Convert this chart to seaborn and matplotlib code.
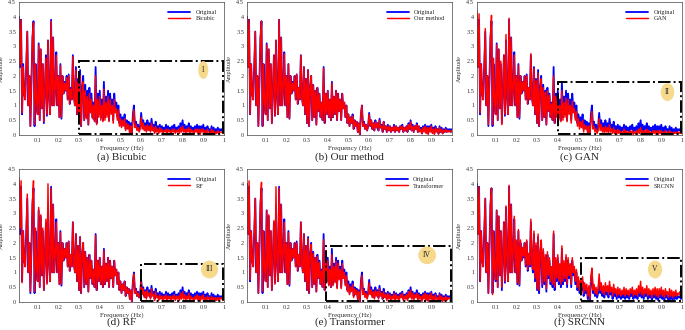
import numpy as np
import pandas as pd
import matplotlib
matplotlib.use("Agg")
import matplotlib.pyplot as plt
import seaborn as sns
from matplotlib.patches import Rectangle
from matplotlib.ticker import FuncFormatter

# amplitude spectra (0.01 .. 1.0 Hz, step 0.005)
original = [
    4.0, 2.3, 3.9, 0.7, 2.4, 1.4, 1.2, 2.3, 3.5, 1.0,
    2.0, 0.3, 1.8, 3.3, 3.85, 0.3, 2.4, 1.1, 0.7, 3.1,
    0.5, 2.9, 0.9, 2.4, 0.4, 1.5, 2.7, 0.65, 3.2, 1.3,
    0.7, 3.9, 1.0, 3.3, 1.0, 1.6, 2.8, 1.0, 2.0, 0.6,
    2.4, 0.55, 2.0, 1.4, 1.8, 1.5, 2.0, 1.2, 2.05, 1.05,
    1.6, 1.2, 2.7, 1.3, 1.0, 2.3, 0.7, 1.9, 0.4, 2.2,
    0.3, 1.6, 2.0, 0.5, 1.7, 0.6, 1.5, 0.35, 1.6, 0.8,
    1.4, 0.6, 1.1, 0.5, 2.3, 0.4, 1.4, 0.7, 1.5, 0.6,
    1.2, 0.5, 1.8, 0.6, 1.3, 0.7, 1.5, 0.5, 1.4, 0.8,
    1.2, 0.5, 1.4, 0.9, 1.1, 0.6, 1.0, 0.4, 0.7, 0.3,
    0.6, 0.4, 0.7, 0.2, 0.5, 0.3, 0.45, 0.1, 0.4, 0.0,
    0.7, 1.0, 0.3, 0.45, 0.2, 0.35, 0.15, 0.3, 0.75, 0.3,
    0.5, 0.2, 0.4, 0.15, 0.5, 0.25, 0.4, 0.15, 0.55, 0.25,
    0.35, 0.1, 0.45, 0.2, 0.3, 0.1, 0.35, 0.15, 0.3, 0.1,
    0.25, 0.15, 0.35, 0.1, 0.3, 0.15, 0.25, 0.1, 0.3, 0.2,
    0.35, 0.1, 0.25, 0.15, 0.3, 0.1, 0.4, 0.2, 0.5, 0.15,
    0.35, 0.1, 0.3, 0.2, 0.4, 0.1, 0.3, 0.15, 0.25, 0.05,
    0.3, 0.15, 0.35, 0.1, 0.3, 0.05, 0.3, 0.15, 0.35, 0.1,
    0.25, 0.05, 0.3, 0.15, 0.2, 0.05, 0.3, 0.1, 0.25, 0.05,
    0.2, 0.1, 0.25, 0.1, 0.2, 0.15, 0.2, 0.1, 0.2,
]

bicubic = [
    3.9, 2.4, 3.9, 0.75, 2.3, 1.4, 1.2, 2.3, 3.5, 1.0,
    2.0, 0.3, 1.8, 3.3, 3.8, 0.35, 2.4, 1.1, 0.7, 3.05,
    0.5, 2.9, 0.9, 2.4, 0.45, 1.5, 2.6, 0.7, 3.2, 1.3,
    0.7, 3.85, 1.0, 3.3, 1.0, 1.6, 2.7, 1.0, 2.0, 0.6,
    2.35, 0.6, 2.0, 1.4, 1.75, 1.5, 1.95, 1.2, 2.0, 1.05,
    1.55, 1.2, 2.65, 1.3, 1.0, 2.2, 0.7, 1.8, 0.45, 2.0,
    0.3, 1.4, 1.8, 0.5, 1.5, 0.55, 1.3, 0.35, 1.4, 0.75,
    1.2, 0.55, 1.0, 0.45, 2.0, 0.35, 1.2, 0.6, 1.3, 0.5,
    1.0, 0.45, 1.55, 0.5, 1.1, 0.6, 1.3, 0.45, 1.2, 0.7,
    1.0, 0.4, 1.2, 0.75, 0.9, 0.5, 0.85, 0.3, 0.55, 0.25,
    0.5, 0.3, 0.55, 0.15, 0.4, 0.2, 0.35, 0.05, 0.3, 0.0,
    0.55, 0.85, 0.25, 0.35, 0.15, 0.25, 0.1, 0.2, 0.6, 0.2,
    0.4, 0.15, 0.3, 0.1, 0.35, 0.15, 0.3, 0.1, 0.4, 0.15,
    0.25, 0.05, 0.3, 0.1, 0.2, 0.05, 0.25, 0.1, 0.2, 0.05,
    0.15, 0.1, 0.2, 0.05, 0.2, 0.1, 0.15, 0.05, 0.2, 0.1,
    0.2, 0.05, 0.15, 0.1, 0.2, 0.05, 0.25, 0.1, 0.3, 0.1,
    0.2, 0.05, 0.2, 0.1, 0.25, 0.05, 0.2, 0.1, 0.15, 0.02,
    0.2, 0.1, 0.2, 0.05, 0.2, 0.02, 0.2, 0.1, 0.2, 0.05,
    0.15, 0.02, 0.2, 0.1, 0.1, 0.02, 0.2, 0.05, 0.15, 0.02,
    0.1, 0.05, 0.15, 0.05, 0.1, 0.1, 0.1, 0.05, 0.1,
]

our_method = [
    4.0, 2.3, 3.9, 0.7, 2.4, 1.4, 1.2, 2.3, 3.5, 1.0,
    2.0, 0.3, 1.8, 3.3, 3.85, 0.3, 2.4, 1.1, 0.7, 3.05,
    0.5, 2.9, 0.9, 2.4, 0.4, 1.5, 2.7, 0.65, 3.2, 1.3,
    0.7, 3.9, 1.0, 3.3, 1.0, 1.6, 2.75, 1.0, 2.0, 0.6,
    2.4, 0.55, 2.0, 1.4, 1.75, 1.5, 2.0, 1.2, 2.05, 1.05,
    1.6, 1.2, 2.7, 1.3, 1.0, 2.3, 0.7, 1.9, 0.4, 2.2,
    0.3, 1.6, 2.0, 0.5, 1.7, 0.6, 1.5, 0.35, 1.6, 0.8,
    1.4, 0.6, 1.1, 0.5, 2.25, 0.4, 1.4, 0.7, 1.5, 0.6,
    1.2, 0.5, 1.75, 0.6, 1.3, 0.7, 1.5, 0.5, 1.4, 0.8,
    1.2, 0.5, 1.4, 0.9, 1.1, 0.6, 1.0, 0.4, 0.7, 0.3,
    0.6, 0.4, 0.65, 0.2, 0.5, 0.3, 0.45, 0.1, 0.4, 0.0,
    0.7, 1.0, 0.3, 0.4, 0.2, 0.35, 0.15, 0.3, 0.7, 0.3,
    0.5, 0.2, 0.4, 0.15, 0.45, 0.25, 0.4, 0.15, 0.5, 0.25,
    0.3, 0.1, 0.45, 0.2, 0.3, 0.1, 0.3, 0.15, 0.3, 0.1,
    0.25, 0.15, 0.3, 0.1, 0.3, 0.15, 0.25, 0.1, 0.3, 0.2,
    0.3, 0.1, 0.25, 0.15, 0.3, 0.1, 0.35, 0.2, 0.45, 0.15,
    0.3, 0.1, 0.3, 0.2, 0.35, 0.1, 0.3, 0.1, 0.2, 0.05,
    0.25, 0.1, 0.3, 0.05, 0.25, 0.02, 0.25, 0.1, 0.3, 0.05,
    0.2, 0.02, 0.25, 0.1, 0.2, 0.02, 0.25, 0.1, 0.2, 0.05,
    0.15, 0.1, 0.2, 0.1, 0.15, 0.1, 0.15, 0.1, 0.15,
]

gan = [
    4.2, 2.3, 4.1, 0.75, 2.4, 1.4, 1.2, 2.3, 3.6, 1.0,
    2.0, 0.35, 1.8, 3.3, 4.05, 0.35, 2.6, 1.1, 0.7, 3.05,
    0.5, 2.9, 0.9, 2.5, 0.35, 1.5, 2.7, 0.7, 3.4, 1.3,
    0.7, 3.95, 1.0, 3.3, 1.0, 1.6, 2.7, 1.0, 2.0, 0.6,
    2.35, 0.6, 2.0, 1.4, 1.8, 1.5, 2.0, 1.2, 2.0, 1.05,
    1.6, 1.2, 2.75, 1.3, 1.0, 2.25, 0.7, 1.85, 0.4, 2.1,
    0.3, 1.5, 1.9, 0.5, 1.6, 0.6, 1.45, 0.35, 1.5, 0.8,
    1.35, 0.6, 1.05, 0.5, 2.0, 0.4, 1.3, 0.6, 1.3, 0.5,
    1.0, 0.45, 1.5, 0.5, 1.1, 0.6, 1.25, 0.45, 1.2, 0.7,
    1.0, 0.4, 1.15, 0.75, 0.9, 0.5, 0.8, 0.3, 0.55, 0.2,
    0.45, 0.25, 0.5, 0.1, 0.35, 0.2, 0.3, 0.05, 0.3, 0.0,
    0.5, 0.8, 0.2, 0.3, 0.1, 0.2, 0.05, 0.15, 0.55, 0.15,
    0.35, 0.1, 0.25, 0.05, 0.3, 0.1, 0.25, 0.05, 0.35, 0.1,
    0.2, 0.05, 0.25, 0.05, 0.15, 0.02, 0.2, 0.05, 0.15, 0.02,
    0.1, 0.05, 0.2, 0.02, 0.15, 0.05, 0.1, 0.02, 0.15, 0.05,
    0.15, 0.02, 0.1, 0.05, 0.15, 0.02, 0.2, 0.05, 0.25, 0.05,
    0.15, 0.02, 0.15, 0.05, 0.2, 0.02, 0.15, 0.05, 0.1, 0.02,
    0.15, 0.05, 0.15, 0.02, 0.15, 0.01, 0.15, 0.05, 0.15, 0.02,
    0.1, 0.01, 0.15, 0.05, 0.1, 0.01, 0.15, 0.05, 0.1, 0.01,
    0.1, 0.05, 0.1, 0.05, 0.1, 0.05, 0.1, 0.05, 0.1,
]

rf = [
    4.2, 2.5, 4.1, 0.65, 2.4, 1.4, 1.2, 2.3, 3.65, 1.0,
    2.0, 0.35, 1.7, 3.4, 4.1, 0.35, 2.5, 1.1, 0.7, 3.2,
    0.5, 2.95, 0.9, 2.5, 0.4, 1.5, 2.8, 0.6, 4.0, 1.3,
    0.7, 3.85, 1.0, 3.3, 1.0, 1.6, 2.7, 1.0, 2.0, 0.6,
    2.35, 0.6, 2.0, 1.4, 1.8, 1.5, 2.0, 1.2, 2.05, 1.05,
    1.6, 1.2, 2.7, 1.3, 1.0, 2.3, 0.7, 1.9, 0.4, 2.2,
    0.3, 1.6, 2.0, 0.5, 1.7, 0.6, 1.5, 0.35, 1.6, 0.8,
    1.4, 0.6, 1.1, 0.5, 2.25, 0.4, 1.4, 0.7, 1.5, 0.6,
    1.2, 0.5, 1.75, 0.6, 1.3, 0.7, 1.5, 0.5, 1.4, 0.8,
    1.2, 0.5, 1.4, 0.9, 1.1, 0.6, 1.0, 0.4, 0.7, 0.3,
    0.6, 0.4, 0.7, 0.2, 0.5, 0.3, 0.45, 0.1, 0.4, 0.0,
    0.7, 0.95, 0.3, 0.4, 0.2, 0.3, 0.15, 0.25, 0.7, 0.25,
    0.45, 0.15, 0.35, 0.1, 0.4, 0.2, 0.3, 0.1, 0.45, 0.2,
    0.25, 0.05, 0.35, 0.15, 0.2, 0.05, 0.25, 0.1, 0.2, 0.05,
    0.2, 0.1, 0.25, 0.05, 0.2, 0.1, 0.2, 0.05, 0.2, 0.1,
    0.25, 0.05, 0.2, 0.1, 0.2, 0.05, 0.3, 0.1, 0.35, 0.1,
    0.25, 0.05, 0.2, 0.1, 0.3, 0.05, 0.2, 0.1, 0.15, 0.02,
    0.2, 0.1, 0.25, 0.05, 0.2, 0.02, 0.2, 0.1, 0.25, 0.05,
    0.15, 0.02, 0.2, 0.1, 0.15, 0.02, 0.2, 0.05, 0.15, 0.02,
    0.15, 0.05, 0.15, 0.05, 0.15, 0.1, 0.15, 0.05, 0.15,
]

transformer = [
    4.0, 2.3, 4.1, 0.75, 2.4, 1.4, 1.2, 2.3, 3.5, 1.0,
    2.0, 0.3, 1.8, 3.4, 4.05, 0.35, 2.4, 1.1, 0.7, 3.1,
    0.5, 2.95, 0.9, 2.4, 0.4, 1.5, 2.75, 0.6, 3.9, 1.3,
    0.7, 3.85, 1.0, 3.3, 1.0, 1.6, 2.7, 1.0, 2.0, 0.6,
    2.35, 0.6, 2.0, 1.4, 1.8, 1.5, 2.0, 1.2, 2.0, 1.05,
    1.6, 1.2, 2.7, 1.3, 1.0, 2.3, 0.7, 1.9, 0.4, 2.15,
    0.3, 1.55, 1.95, 0.5, 1.65, 0.6, 1.5, 0.35, 1.55, 0.8,
    1.35, 0.6, 1.05, 0.5, 2.1, 0.4, 1.3, 0.65, 1.4, 0.55,
    1.1, 0.5, 1.6, 0.55, 1.2, 0.65, 1.4, 0.45, 1.3, 0.75,
    1.1, 0.45, 1.3, 0.8, 1.0, 0.55, 0.9, 0.35, 0.6, 0.25,
    0.5, 0.35, 0.6, 0.15, 0.45, 0.25, 0.4, 0.1, 0.35, 0.0,
    0.6, 0.9, 0.25, 0.4, 0.15, 0.3, 0.1, 0.25, 0.65, 0.25,
    0.4, 0.15, 0.35, 0.1, 0.4, 0.2, 0.35, 0.1, 0.45, 0.2,
    0.3, 0.1, 0.35, 0.15, 0.25, 0.05, 0.3, 0.1, 0.25, 0.05,
    0.2, 0.1, 0.3, 0.05, 0.25, 0.1, 0.2, 0.05, 0.25, 0.15,
    0.3, 0.05, 0.2, 0.1, 0.25, 0.05, 0.35, 0.15, 0.4, 0.1,
    0.3, 0.05, 0.25, 0.15, 0.3, 0.05, 0.25, 0.1, 0.2, 0.02,
    0.25, 0.1, 0.3, 0.05, 0.25, 0.02, 0.25, 0.1, 0.3, 0.05,
    0.2, 0.02, 0.25, 0.1, 0.15, 0.02, 0.25, 0.05, 0.2, 0.02,
    0.15, 0.05, 0.2, 0.05, 0.15, 0.1, 0.15, 0.05, 0.15,
]

srcnn = [
    3.9, 2.3, 3.9, 0.7, 2.4, 1.4, 1.2, 2.3, 3.5, 1.0,
    2.0, 0.3, 1.8, 3.3, 3.85, 0.25, 2.4, 1.1, 0.75, 3.1,
    0.5, 2.9, 0.9, 2.4, 0.5, 1.5, 2.7, 0.7, 3.25, 1.3,
    0.7, 3.95, 1.0, 3.3, 1.0, 1.7, 2.9, 1.0, 2.1, 0.65,
    2.45, 0.6, 2.1, 1.4, 1.85, 1.55, 2.0, 1.25, 2.1, 1.1,
    1.65, 1.25, 2.8, 1.35, 1.1, 2.4, 0.8, 2.0, 0.45, 2.3,
    0.4, 1.7, 2.1, 0.6, 1.8, 0.7, 1.6, 0.45, 1.7, 0.9,
    1.5, 0.7, 1.2, 0.6, 2.4, 0.5, 1.5, 0.8, 1.6, 0.7,
    1.3, 0.6, 1.9, 0.7, 1.4, 0.8, 1.6, 0.6, 1.5, 0.9,
    1.3, 0.6, 1.5, 1.0, 1.2, 0.7, 1.1, 0.5, 0.85, 0.4,
    0.75, 0.5, 0.85, 0.3, 0.65, 0.4, 0.6, 0.2, 0.55, 0.1,
    0.85, 1.15, 0.4, 0.6, 0.3, 0.5, 0.25, 0.45, 0.95, 0.4,
    0.65, 0.3, 0.55, 0.25, 0.65, 0.35, 0.55, 0.25, 0.7, 0.35,
    0.5, 0.2, 0.6, 0.3, 0.45, 0.2, 0.5, 0.25, 0.45, 0.2,
    0.4, 0.25, 0.5, 0.2, 0.45, 0.25, 0.4, 0.2, 0.45, 0.3,
    0.5, 0.2, 0.4, 0.25, 0.45, 0.2, 0.55, 0.3, 0.7, 0.25,
    0.5, 0.2, 0.45, 0.3, 0.55, 0.2, 0.45, 0.25, 0.4, 0.15,
    0.45, 0.25, 0.5, 0.2, 0.45, 0.15, 0.45, 0.25, 0.5, 0.2,
    0.4, 0.15, 0.45, 0.25, 0.35, 0.15, 0.45, 0.2, 0.4, 0.15,
    0.35, 0.2, 0.4, 0.2, 0.3, 0.25, 0.35, 0.2, 0.3,
]

methods = ["Bicubic", "Our method", "GAN", "RF", "Transformer", "SRCNN"]
captions = ["(a) Bicubic", "(b) Our method", "(c) GAN", "(d) RF", "(e) Transformer", "(f) SRCNN"]
method_values = [bicubic, our_method, gan, rf, transformer, srcnn]

# highlighted regions: (x0, y0, x1, y1), label, label position
boxes = [
    ((0.30, 0.02, 0.995, 2.5), "I", (0.90, 2.2)),
    None,
    ((0.40, 0.02, 0.995, 1.8), "II", (0.93, 1.45)),
    ((0.60, 0.05, 0.995, 1.3), "III", (0.93, 1.1)),
    ((0.39, 0.02, 0.995, 1.9), "IV", (0.88, 1.58)),
    ((0.51, 0.02, 0.995, 1.5), "V", (0.87, 1.1)),
]

freq = np.round(np.linspace(0.01, 1.0, len(original)), 3)

sns.set_style("white")
plt.rcParams["font.family"] = ["Liberation Serif", "DejaVu Serif"]

W, H = 685, 330
fig = plt.figure(figsize=(W / 100, H / 100), dpi=100)

col_left = [19, 247, 477]
row_top = [2, 169]
ax_w, ax_h = 205, 133

for i, name in enumerate(methods):
    r, c = divmod(i, 3)
    left = col_left[c]
    top = row_top[r]
    ax = fig.add_axes([left / W, 1 - (top + ax_h) / H, ax_w / W, ax_h / H])

    df = pd.DataFrame({"freq": freq, "Original": original, name: method_values[i]})
    sns.lineplot(data=df, x="freq", y="Original", ax=ax, color="#0000ff",
                 linewidth=1.3, label="Original")
    sns.lineplot(data=df, x="freq", y=name, ax=ax, color="#ff0000",
                 linewidth=1.05, label=name)

    ax.set_xlim(0.01, 1.0)
    ax.set_ylim(0, 4.5)
    ax.set_xticks(np.arange(0.1, 1.01, 0.1))
    ax.set_yticks(np.arange(0, 4.51, 0.5))
    fmt = FuncFormatter(lambda v, p: "%g" % round(v, 2))
    ax.xaxis.set_major_formatter(fmt)
    ax.yaxis.set_major_formatter(fmt)
    ax.tick_params(labelsize=4.5, direction="in", length=2, width=0.4,
                   pad=2, colors="#333333")
    for s in ax.spines.values():
        s.set_linewidth(0.5)
        s.set_color("#444444")
    ax.set_xlabel("Frequency (Hz)", fontsize=5, labelpad=2, color="#333333")
    ax.set_ylabel("Amplitude", fontsize=4.5, labelpad=3, color="#333333")

    ax.legend(loc="upper right", fontsize=4.5, frameon=False,
              handlelength=3.6, borderaxespad=0.8, labelspacing=0.2)

    if boxes[i] is not None:
        (x0, y0, x1, y1), lab, (lx, ly) = boxes[i]
        ax.add_patch(Rectangle((x0, y0), x1 - x0, y1 - y0, fill=False,
                               edgecolor="black", linestyle="-.",
                               linewidth=1.4, zorder=5))
        ax.text(lx, ly, lab, fontsize=5.5, ha="center", va="center", zorder=6,
                bbox=dict(boxstyle="ellipse,pad=0.3", fc="#f6d98a", ec="none"))

    cap_y = 157 if r == 0 else 322
    fig.text((left + ax_w / 2) / W, 1 - cap_y / H, captions[i],
             fontsize=8, ha="center", va="center")

fig.savefig("out.png", dpi=100)
